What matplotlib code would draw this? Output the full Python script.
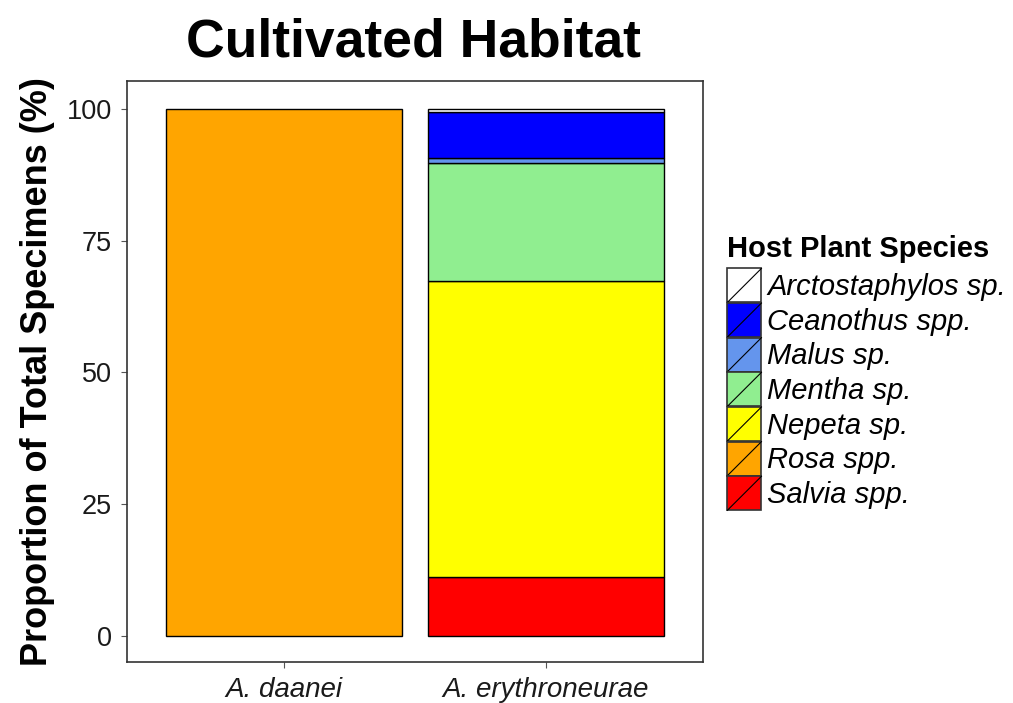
import matplotlib.pyplot as plt
from matplotlib.patches import Rectangle
from matplotlib.lines import Line2D
from matplotlib.legend_handler import HandlerBase

plt.rcParams['font.family'] = ['Liberation Sans', 'DejaVu Sans']

species = ['Arctostaphylos sp.', 'Ceanothus spp.', 'Malus sp.', 'Mentha sp.',
           'Nepeta sp.', 'Rosa spp.', 'Salvia spp.']
colors = ['#FFFFFF', '#0000FF', '#6495ED', '#90EE90', '#FFFF00', '#FFA500', '#FF0000']
wasps = ['A. daanei', 'A. erythroneurae']

# percent of specimens per host plant, for each wasp species
daanei = [0, 0, 0, 0, 0, 100, 0]
erythroneurae = [0.5, 8.9, 0.8, 22.4, 56.2, 0, 11.2]


class SlashHandler(HandlerBase):
    def create_artists(self, legend, orig, xd, yd, w, h, fontsize, trans):
        r = Rectangle((-xd, -yd), w, h, facecolor=orig.get_facecolor(),
                      edgecolor='#333333', lw=1.2, transform=trans)
        l = Line2D([-xd, -xd + w], [-yd, -yd + h], color='black', lw=0.8,
                   transform=trans)
        return [r, l]


fig = plt.figure(figsize=(10.13, 7.03), dpi=100)
ax = fig.add_axes([0.1254, 0.0583, 0.5686, 0.8265])

xs = [1, 2]
# stack from bottom: Salvia first, Arctostaphylos on top
for i, vals in enumerate([daanei, erythroneurae]):
    bottom = 0
    for j in range(len(species) - 1, -1, -1):
        v = vals[j]
        if v > 0:
            ax.bar(xs[i], v, bottom=bottom, width=0.9, color=colors[j],
                   edgecolor='black', linewidth=1.0)
        bottom += v

ax.set_xlim(0.4, 2.6)
ax.set_ylim(-5, 105.3)
ax.set_yticks([0, 25, 50, 75, 100])
ax.set_xticks(xs)
ax.set_xticklabels(wasps, fontstyle='italic', fontsize=20)
ax.tick_params(axis='y', labelsize=19.5, pad=7)
ax.tick_params(axis='x', pad=7)
ax.tick_params(length=4, color='#555555', labelcolor='#1a1a1a')
for s in ax.spines.values():
    s.set_linewidth(1.2)
    s.set_color('#333333')

ax.set_ylabel('Proportion of Total Specimens (%)', fontsize=26, fontweight='bold',
              labelpad=8)
fig.suptitle('Cultivated Habitat', fontsize=38.5, fontweight='bold', x=0.408, y=0.975)

handles = [Rectangle((0, 0), 1, 1, facecolor=c) for c in colors]
leg = fig.legend(handles, species, title='Host Plant Species',
                 loc='center left', bbox_to_anchor=(0.718, 0.47),
                 frameon=False, handler_map={Rectangle: SlashHandler()},
                 prop={'style': 'italic', 'size': 21},
                 title_fontproperties={'weight': 'bold', 'size': 21},
                 handlelength=1.17, handleheight=1.42, handletextpad=0.2,
                 labelspacing=0.02, borderaxespad=0, borderpad=0)
leg._legend_box.align = 'left'
leg._legend_box.sep = 4

fig.savefig('out.png', dpi=100)
